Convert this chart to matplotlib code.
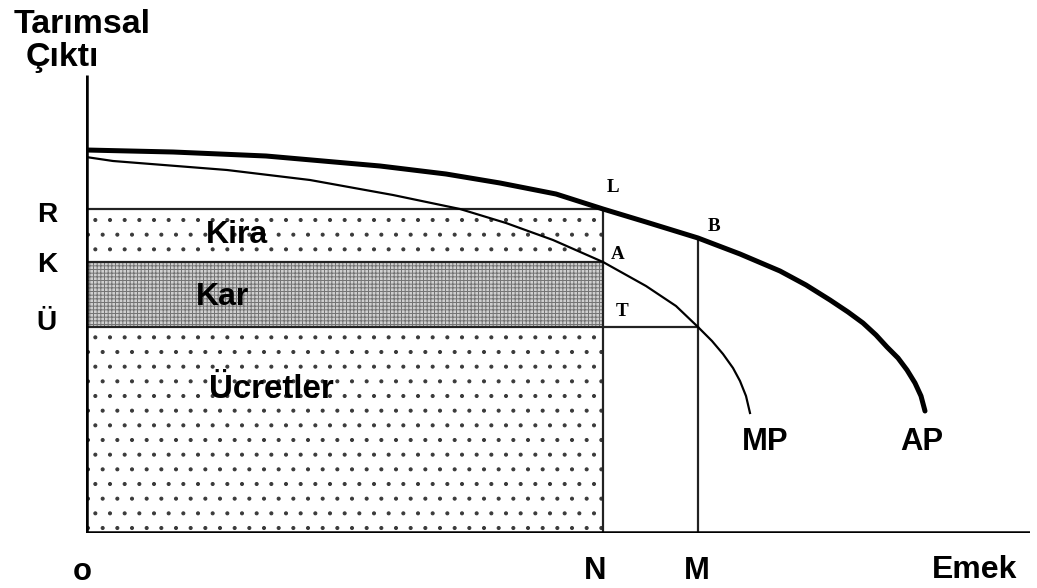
import matplotlib
matplotlib.use('Agg')
import matplotlib.pyplot as plt
from matplotlib.patches import Rectangle

DPI = 176
W, H = 1037, 588


def pt(px):
    # points from pixels (font sizes, line widths)
    return px * 72.0 / DPI


# data (labour on x, output on y)
ap_x = [0, 87, 180, 294, 360, 414, 470, 517, 560, 612, 654, 694, 720, 744,
        762, 777, 790, 801, 812, 821, 829, 835, 839]
ap_y = [383, 381, 377, 367, 359, 350, 339, 324, 311, 295, 279, 262, 248, 233,
        221, 210, 198, 186, 175, 163, 150, 137, 122]
mp_x = [0, 27, 141, 224, 307, 374, 420, 467, 517, 560, 590, 612, 626, 637,
        647, 654, 660, 664]
mp_y = [376, 372, 363, 353, 338, 324, 310, 293, 271, 247, 227, 206, 192, 179,
        165, 152, 137, 120]

N, M = 517, 612          # labour levels
R, K, U = 324, 271, 206  # output levels (rent, profit, wage lines)
AP_M = 295               # AP at M (point B)

areas = ['Kira', 'Kar', 'Ücretler']

fig = plt.figure(figsize=(W / DPI, H / DPI), dpi=DPI)
# axes placed so the origin sits where it is in the picture
ax = fig.add_axes([86 / W, (H - 533) / H, (1030 - 86) / W, (533 - 75) / H])
ax.set_xlim(0, 944)
ax.set_ylim(0, 458)
ax.set_axis_off()

# shaded areas
plt.rcParams['hatch.linewidth'] = pt(1.1)
ax.add_patch(Rectangle((0, K), N, R - K, facecolor='white', edgecolor='#3a3a3a',
                       hatch='..', linewidth=0))
ax.add_patch(Rectangle((0, 0), N, U, facecolor='white', edgecolor='#3a3a3a',
                       hatch='..', linewidth=0))
plt.rcParams['hatch.linewidth'] = pt(1.0)
ax.add_patch(Rectangle((0, U), N, K - U, facecolor='#d0d0d0', edgecolor='#747474',
                       hatch='++++++++', linewidth=0))

# guide lines
lw = pt(2.2)
ax.plot([0, N], [R, R], color='#222222', lw=lw)
ax.plot([0, N], [K, K], color='#222222', lw=lw)
ax.plot([0, M], [U, U], color='#222222', lw=lw)
ax.plot([N, N], [0, R], color='#222222', lw=lw)
ax.plot([M, M], [0, AP_M], color='#222222', lw=lw)

# curves
ax.plot(ap_x, ap_y, color='black', lw=pt(5), solid_capstyle='round',
        solid_joinstyle='round')
ax.plot(mp_x, mp_y, color='black', lw=pt(2.2), solid_joinstyle='round')

# axes lines
ax.plot([0, 0], [0, 458], color='black', lw=pt(4.5), solid_capstyle='butt')
ax.plot([0, 944], [0, 0], color='black', lw=pt(4.5), solid_capstyle='butt')

bold = dict(family='Liberation Sans', fontweight='bold', color='black')
serif = dict(family='Liberation Serif', fontweight='bold', color='black',
             fontsize=pt(19))


# texts in figure pixel coords (y downward)
def ftext(x, y, s, size, ha='center', **kw):
    fig.text(x / W, 1 - y / H, s, fontsize=pt(size), ha=ha, va='baseline', **kw)


ftext(82, 33, 'Tarımsal', 34, **bold)
ftext(62, 66, 'Çıktı', 34, **bold)
ftext(47, 222, 'R', 28, **bold)
ftext(47, 272, 'K', 28, **bold)
ftext(47, 330, 'Ü', 28, **bold)
ftext(82, 580, 'o', 31, **bold)
ftext(595, 579, 'N', 31, **bold)
ftext(697, 579, 'M', 31, **bold)
ftext(975, 578, 'Emek', 32, **bold)
ftext(237, 243, areas[0], 32, **bold)
ftext(223, 305, areas[1], 32, **bold)
ftext(271, 398, areas[2], 33, **bold)
ftext(765, 450, 'MP', 31, **bold)
ftext(922, 450, 'AP', 31, **bold)

for lab, x, y in [('L', 613, 192), ('A', 618, 259), ('T', 622, 316), ('B', 714, 231)]:
    fig.text(x / W, 1 - y / H, lab, ha='center', va='baseline', **serif)

fig.savefig('out.png', dpi=DPI)
